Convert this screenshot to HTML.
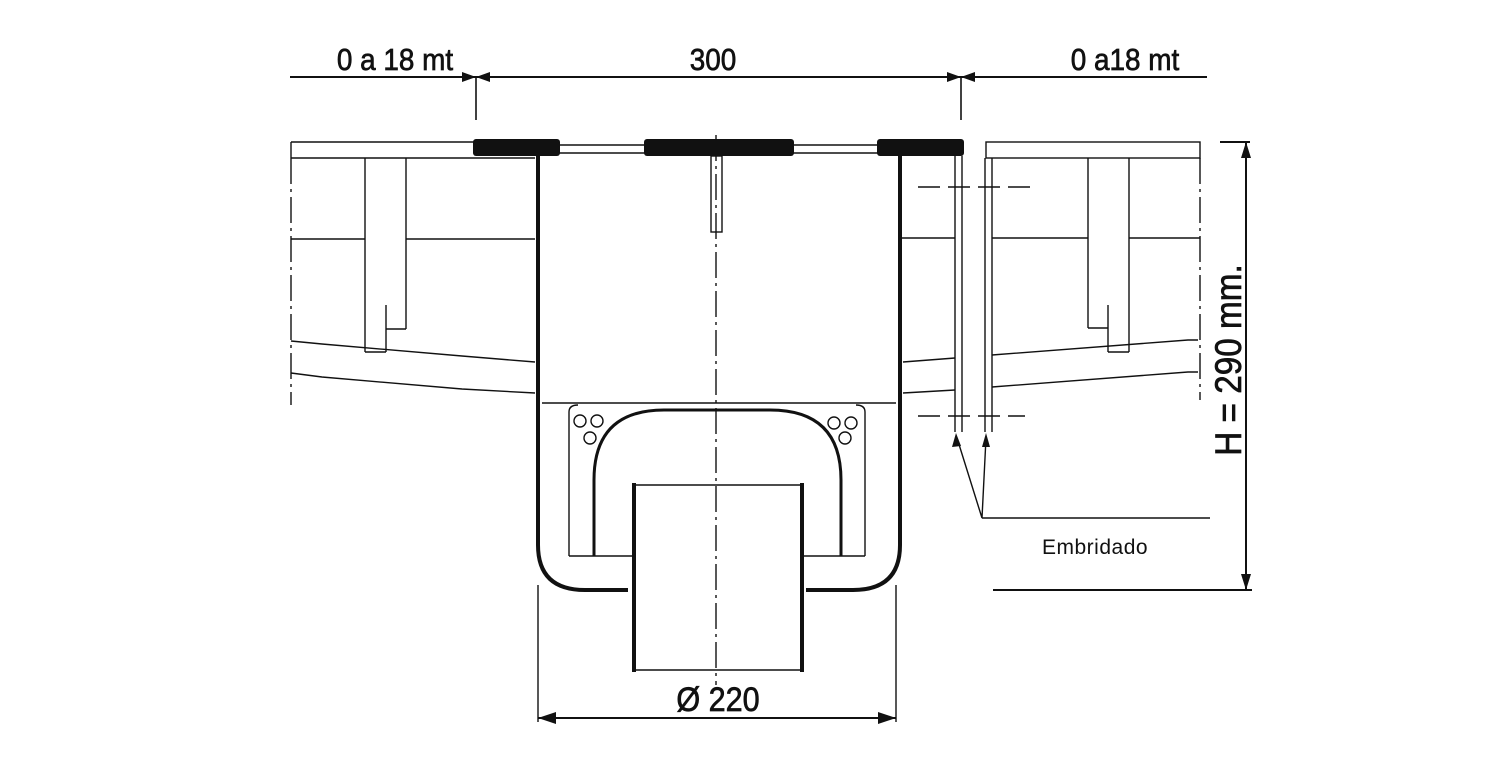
<!DOCTYPE html>
<html><head><meta charset="utf-8"><style>html,body{margin:0;padding:0;background:#fff}svg{display:block}</style></head>
<body>
<svg width="1500" height="781" viewBox="0 0 1500 781" xmlns="http://www.w3.org/2000/svg" font-family="Liberation Sans, sans-serif">
<g fill="none" stroke="#111" stroke-width="1.4">
<line x1="290" y1="77" x2="1207" y2="77" stroke-width="2"/>
<line x1="476" y1="77" x2="476" y2="120" stroke-width="1.6"/>
<line x1="961" y1="77" x2="961" y2="120" stroke-width="1.6"/>
<line x1="291" y1="142" x2="474" y2="142"/>
<line x1="291" y1="158" x2="535" y2="158"/>
<line x1="291" y1="142" x2="291" y2="158"/>
<line x1="291" y1="158" x2="291" y2="405" stroke-dasharray="26,5,3,5"/>
<line x1="365" y1="158" x2="365" y2="352"/>
<line x1="406" y1="158" x2="406" y2="329"/>
<line x1="386" y1="305" x2="386" y2="352"/>
<line x1="386" y1="329" x2="406" y2="329"/>
<line x1="365" y1="352" x2="386" y2="352"/>
<line x1="291" y1="239" x2="365" y2="239"/>
<line x1="406" y1="239" x2="535" y2="239"/>
<polyline points="291,341 322,344 462,356 535,362"/>
<polyline points="291,373 322,377 462,389 535,393"/>
<line x1="558" y1="145" x2="646" y2="145"/><line x1="558" y1="153" x2="646" y2="153"/>
<line x1="792" y1="145" x2="879" y2="145"/><line x1="792" y1="153" x2="879" y2="153"/>
<rect x="711" y="156" width="11" height="76"/>
<line x1="955" y1="156" x2="955" y2="432"/><line x1="962" y1="156" x2="962" y2="432"/>
<line x1="985" y1="158" x2="985" y2="432"/><line x1="992" y1="158" x2="992" y2="432"/>
<line x1="918" y1="187" x2="1030" y2="187" stroke-dasharray="22,8"/>
<line x1="918" y1="416" x2="1025" y2="416" stroke-dasharray="22,8"/>
<rect x="986" y="142" width="214" height="16"/>
<line x1="1200" y1="158" x2="1200" y2="400" stroke-dasharray="26,5,3,5"/>
<line x1="1088" y1="158" x2="1088" y2="328"/>
<line x1="1129" y1="158" x2="1129" y2="352"/>
<line x1="1108" y1="305" x2="1108" y2="352"/>
<line x1="1088" y1="328" x2="1108" y2="328"/>
<line x1="1108" y1="352" x2="1129" y2="352"/>
<line x1="900" y1="238" x2="955" y2="238"/><line x1="992" y1="238" x2="1088" y2="238"/><line x1="1129" y1="238" x2="1200" y2="238"/>
<polyline points="903,362 955,358"/><polyline points="992,355 1188,340 1198,340"/>
<polyline points="903,393 955,390"/><polyline points="992,387 1188,372 1198,372"/>
<line x1="542" y1="403" x2="896" y2="403"/>
<path d="M569,556 V412 Q569,405 578,405"/>
<path d="M865,556 V412 Q865,405 856,405"/>
<line x1="569" y1="556" x2="632" y2="556"/>
<line x1="804" y1="556" x2="865" y2="556"/>
<path d="M594,556 V480 Q594,410 664,410 H770 Q841,410 841,480 V556" stroke-width="3"/>
<circle cx="580" cy="421" r="6"/><circle cx="597" cy="421" r="6"/><circle cx="590" cy="438" r="6"/>
<circle cx="834" cy="423" r="6"/><circle cx="851" cy="423" r="6"/><circle cx="845" cy="438" r="6"/>
<path d="M538,155 V545 Q538,590 585,590 H628" stroke-width="4"/>
<path d="M900,155 V545 Q900,590 853,590 H806" stroke-width="4"/>
<line x1="634" y1="483" x2="634" y2="672" stroke-width="4"/>
<line x1="802" y1="483" x2="802" y2="672" stroke-width="4"/>
<line x1="634" y1="485" x2="802" y2="485"/>
<line x1="634" y1="670" x2="802" y2="670"/>
<line x1="716" y1="135" x2="716" y2="685" stroke-dasharray="26,5,3,5"/>
<line x1="538" y1="585" x2="538" y2="722"/><line x1="896" y1="585" x2="896" y2="722"/>
<line x1="538" y1="718" x2="896" y2="718" stroke-width="2"/>
<polyline points="957,438 982,518 986,438"/>
<line x1="982" y1="518" x2="1210" y2="518"/>
<line x1="1246" y1="142" x2="1246" y2="590" stroke-width="2"/>
<line x1="1220" y1="142" x2="1250" y2="142" stroke-width="2"/>
<line x1="993" y1="590" x2="1252" y2="590" stroke-width="2"/>
</g>
<g fill="#111">
<rect x="473" y="139" width="87" height="17" rx="3"/>
<rect x="644" y="139" width="150" height="17" rx="3"/>
<rect x="877" y="139" width="87" height="17" rx="3"/>
<polygon points="462,72 476,77 462,82"/><polygon points="490,72 476,77 490,82"/>
<polygon points="947,72 961,77 947,82"/><polygon points="975,72 961,77 975,82"/>
<polygon points="538,718 556,712 556,724"/><polygon points="896,718 878,712 878,724"/>
<polygon points="1246,142 1241,158 1251,158"/><polygon points="1246,590 1241,574 1251,574"/>
<polygon points="956,433 952,447 961,446"/><polygon points="986,433 982,447 990,447"/>
</g>
<g fill="#111" stroke="#111" stroke-width="0.7">
<text x="395" y="70" font-size="31" text-anchor="middle" transform="translate(395 0) scale(0.9 1) translate(-395 0)">0 a 18 mt</text>
<text x="713" y="70" font-size="31" text-anchor="middle" transform="translate(713 0) scale(0.9 1) translate(-713 0)">300</text>
<text x="1125" y="70" font-size="31" text-anchor="middle" transform="translate(1125 0) scale(0.9 1) translate(-1125 0)">0 a18 mt</text>
<text x="718" y="711" font-size="34" text-anchor="middle" transform="translate(718 0) scale(0.9 1) translate(-718 0)">Ø 220</text>
<text x="0" y="0" font-size="37" text-anchor="middle" transform="translate(1241 360) rotate(-90) scale(0.9 1)">H = 290 mm.</text>
</g>
<text x="1042" y="554" font-size="21" letter-spacing="0.5" fill="#111">Embridado</text>
</svg>
</body></html>
